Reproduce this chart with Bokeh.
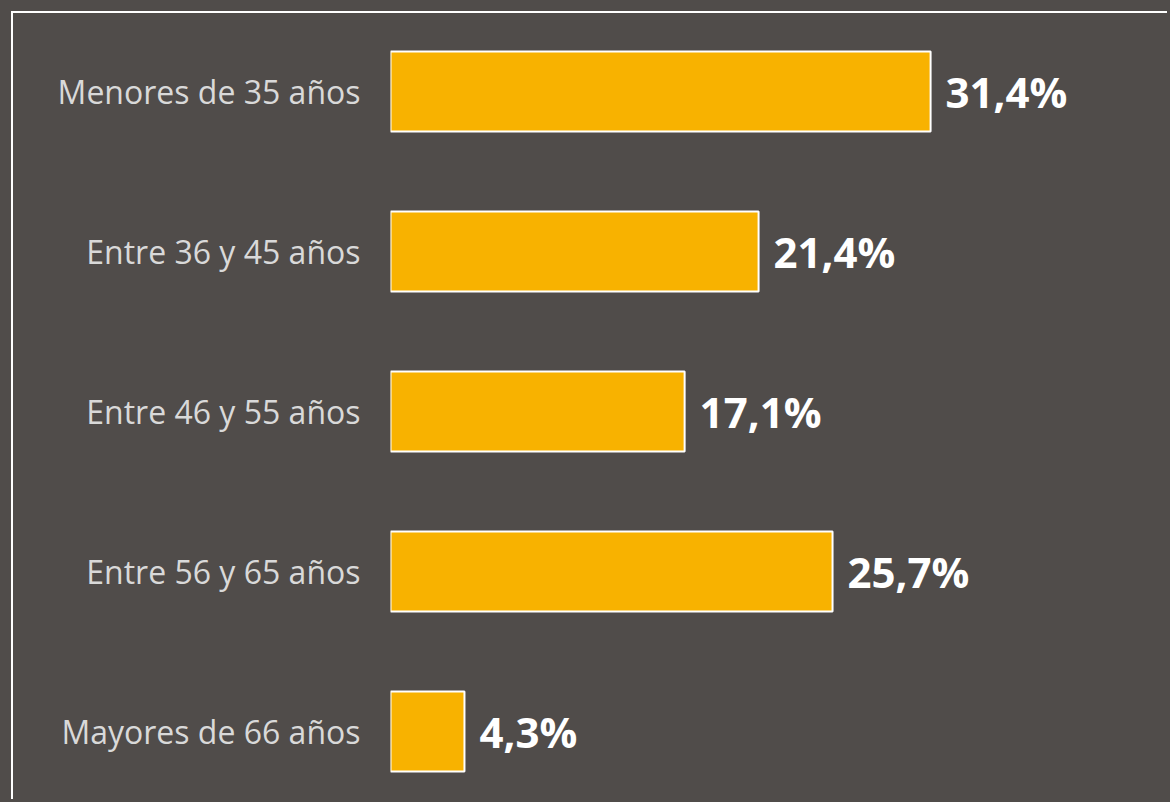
from bokeh.plotting import figure
from bokeh.models import ColumnDataSource, Range1d, FixedTicker
from bokeh.core.properties import value
from bokeh.embed import file_html
from bokeh.resources import INLINE

categories = ["Menores de 35 años", "Entre 36 y 45 años", "Entre 46 y 55 años",
              "Entre 56 y 65 años", "Mayores de 66 años"]
values = [31.4, 21.4, 17.1, 25.7, 4.3]
value_labels = ["31,4%", "21,4%", "17,1%", "25,7%", "4,3%"]

BG = "#504C4A"
BAR = "#F8B200"

positions = list(range(len(categories)))
src = ColumnDataSource(dict(pos=positions, val=values, lab=value_labels))

p = figure(width=1156, height=788, output_backend="svg", toolbar_location=None,
           x_range=Range1d(0, 45.29), y_range=Range1d(4.4375, -0.4875),
           min_border_left=377, min_border_right=0, min_border_top=0, min_border_bottom=0)
p.background_fill_color = BG
p.border_fill_color = BG
p.outline_line_color = None
p.grid.visible = False
p.xaxis.visible = False

p.hbar(y="pos", right="val", left=0, height=0.5, source=src,
       fill_color=BAR, line_color="white", line_width=2)
p.text(x="val", y="pos", text="lab", source=src, x_offset=15,
       text_baseline="middle", text_align="left",
       text_font=value("Open Sans"), text_font_style="bold",
       text_font_size="42px", text_color="white")

ya = p.yaxis[0]
ya.ticker = FixedTicker(ticks=positions)
ya.major_label_overrides = {i: c for i, c in zip(positions, categories)}
ya.axis_line_color = None
ya.major_tick_line_color = None
ya.minor_tick_line_color = None
ya.major_tick_out = 0
ya.major_tick_in = 0
ya.major_label_standoff = 30
ya.major_label_text_font = "Open Sans"
ya.major_label_text_font_size = "32px"
ya.major_label_text_color = "#D9D9D9"

p.styles = {"margin-left": "13px", "margin-top": "13px",
            "box-shadow": "-2px -2px 0 0 #ffffff"}

open("out.html", "w").write(file_html(p, INLINE).replace(
    "<body>", '<body style="background-color:#504C4A;">'))
